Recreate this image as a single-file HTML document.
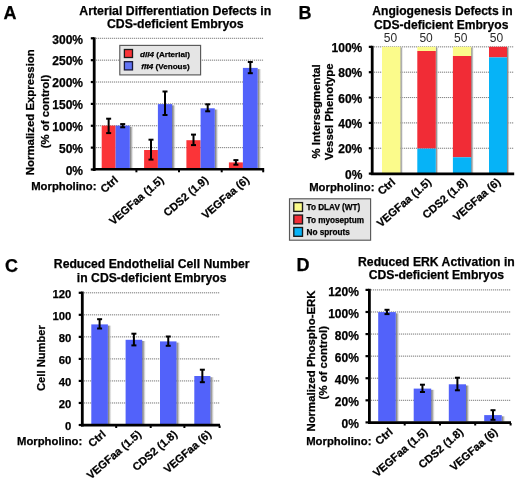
<!DOCTYPE html>
<html><head><meta charset="utf-8"><style>
html,body{margin:0;padding:0;background:#fff;}
svg{display:block;will-change:transform;}
text{font-family:"Liberation Sans", sans-serif;stroke:#000;stroke-width:0.25px;}
</style></head><body>
<svg width="520" height="483" viewBox="0 0 520 483">
<defs><linearGradient id="sh" x1="0" x2="1" y1="0" y2="0"><stop offset="0" stop-color="#6e6e6e" stop-opacity="1"/><stop offset="0.45" stop-color="#a4a4a4" stop-opacity="0.85"/><stop offset="1" stop-color="#e8e8e8" stop-opacity="0.2"/></linearGradient></defs>
<rect width="520" height="483" fill="#fff"/>
<text x="3.6" y="18.9" font-size="18" font-weight="bold" font-style="normal" text-anchor="start" fill="#000">A</text>
<text x="175.3" y="14.6" font-size="12.3" font-weight="bold" font-style="normal" text-anchor="middle" fill="#000">Arterial Differentiation Defects in</text>
<text x="175.3" y="28.4" font-size="12.3" font-weight="bold" font-style="normal" text-anchor="middle" fill="#000">CDS-deficient Embryos</text>
<line x1="90.8" y1="169.5" x2="94" y2="169.5" stroke="#000" stroke-width="2.2"/>
<text x="83" y="174.8" font-size="12" font-weight="bold" font-style="normal" text-anchor="end" fill="#000">0%</text>
<line x1="96" y1="147.63" x2="263.3" y2="147.63" stroke="#e4e4e4" stroke-width="1"/>
<line x1="96" y1="147.63" x2="263.3" y2="147.63" stroke="#858585" stroke-width="1" stroke-dasharray="1 1"/>
<line x1="90.8" y1="147.63" x2="94" y2="147.63" stroke="#000" stroke-width="2.2"/>
<text x="83" y="152.93" font-size="12" font-weight="bold" font-style="normal" text-anchor="end" fill="#000">50%</text>
<line x1="96" y1="125.77" x2="263.3" y2="125.77" stroke="#e4e4e4" stroke-width="1"/>
<line x1="96" y1="125.77" x2="263.3" y2="125.77" stroke="#858585" stroke-width="1" stroke-dasharray="1 1"/>
<line x1="90.8" y1="125.77" x2="94" y2="125.77" stroke="#000" stroke-width="2.2"/>
<text x="83" y="131.07" font-size="12" font-weight="bold" font-style="normal" text-anchor="end" fill="#000">100%</text>
<line x1="96" y1="103.9" x2="263.3" y2="103.9" stroke="#e4e4e4" stroke-width="1"/>
<line x1="96" y1="103.9" x2="263.3" y2="103.9" stroke="#858585" stroke-width="1" stroke-dasharray="1 1"/>
<line x1="90.8" y1="103.9" x2="94" y2="103.9" stroke="#000" stroke-width="2.2"/>
<text x="83" y="109.2" font-size="12" font-weight="bold" font-style="normal" text-anchor="end" fill="#000">150%</text>
<line x1="96" y1="82.03" x2="263.3" y2="82.03" stroke="#e4e4e4" stroke-width="1"/>
<line x1="96" y1="82.03" x2="263.3" y2="82.03" stroke="#858585" stroke-width="1" stroke-dasharray="1 1"/>
<line x1="90.8" y1="82.03" x2="94" y2="82.03" stroke="#000" stroke-width="2.2"/>
<text x="83" y="87.33" font-size="12" font-weight="bold" font-style="normal" text-anchor="end" fill="#000">200%</text>
<line x1="96" y1="60.17" x2="263.3" y2="60.17" stroke="#e4e4e4" stroke-width="1"/>
<line x1="96" y1="60.17" x2="263.3" y2="60.17" stroke="#858585" stroke-width="1" stroke-dasharray="1 1"/>
<line x1="90.8" y1="60.17" x2="94" y2="60.17" stroke="#000" stroke-width="2.2"/>
<text x="83" y="65.47" font-size="12" font-weight="bold" font-style="normal" text-anchor="end" fill="#000">250%</text>
<line x1="96" y1="38.3" x2="263.3" y2="38.3" stroke="#e4e4e4" stroke-width="1"/>
<line x1="96" y1="38.3" x2="263.3" y2="38.3" stroke="#858585" stroke-width="1" stroke-dasharray="1 1"/>
<line x1="90.8" y1="38.3" x2="94" y2="38.3" stroke="#000" stroke-width="2.2"/>
<text x="83" y="43.6" font-size="12" font-weight="bold" font-style="normal" text-anchor="end" fill="#000">300%</text>
<rect x="101.7" y="125.6" width="13.899999999999991" height="43.400000000000006" fill="#fb3438"/>
<rect x="129.8" y="126.8" width="3.5999999999999943" height="42.2" fill="url(#sh)"/>
<rect x="115.6" y="125.6" width="14.200000000000017" height="43.400000000000006" fill="#5262fa"/>
<rect x="144.1" y="150.0" width="13.800000000000011" height="19.0" fill="#fb3438"/>
<rect x="172.1" y="105.3" width="3.5999999999999943" height="63.7" fill="url(#sh)"/>
<rect x="157.9" y="104.1" width="14.199999999999989" height="64.9" fill="#5262fa"/>
<rect x="186.4" y="140.2" width="14.199999999999989" height="28.80000000000001" fill="#fb3438"/>
<rect x="214.8" y="109.5" width="3.5999999999999943" height="59.5" fill="url(#sh)"/>
<rect x="200.6" y="108.3" width="14.200000000000017" height="60.7" fill="#5262fa"/>
<rect x="228.9" y="162.4" width="14.0" height="6.599999999999994" fill="#fb3438"/>
<rect x="257.7" y="69.1" width="3.6000000000000227" height="99.9" fill="url(#sh)"/>
<rect x="242.9" y="67.9" width="14.799999999999983" height="101.1" fill="#5262fa"/>
<line x1="108.65" y1="118.7" x2="108.65" y2="133.1" stroke="#000" stroke-width="2"/>
<line x1="106.15" y1="118.7" x2="111.15" y2="118.7" stroke="#000" stroke-width="2"/>
<line x1="106.15" y1="133.1" x2="111.15" y2="133.1" stroke="#000" stroke-width="2"/>
<line x1="122.7" y1="124.1" x2="122.7" y2="127.3" stroke="#000" stroke-width="2"/>
<line x1="120.2" y1="124.1" x2="125.2" y2="124.1" stroke="#000" stroke-width="2"/>
<line x1="120.2" y1="127.3" x2="125.2" y2="127.3" stroke="#000" stroke-width="2"/>
<line x1="151" y1="139.7" x2="151" y2="159.6" stroke="#000" stroke-width="2"/>
<line x1="148.5" y1="139.7" x2="153.5" y2="139.7" stroke="#000" stroke-width="2"/>
<line x1="148.5" y1="159.6" x2="153.5" y2="159.6" stroke="#000" stroke-width="2"/>
<line x1="165" y1="91.5" x2="165" y2="115" stroke="#000" stroke-width="2"/>
<line x1="162.5" y1="91.5" x2="167.5" y2="91.5" stroke="#000" stroke-width="2"/>
<line x1="162.5" y1="115" x2="167.5" y2="115" stroke="#000" stroke-width="2"/>
<line x1="193.5" y1="134.6" x2="193.5" y2="145.1" stroke="#000" stroke-width="2"/>
<line x1="191" y1="134.6" x2="196" y2="134.6" stroke="#000" stroke-width="2"/>
<line x1="191" y1="145.1" x2="196" y2="145.1" stroke="#000" stroke-width="2"/>
<line x1="207.7" y1="104.3" x2="207.7" y2="111.3" stroke="#000" stroke-width="2"/>
<line x1="205.2" y1="104.3" x2="210.2" y2="104.3" stroke="#000" stroke-width="2"/>
<line x1="205.2" y1="111.3" x2="210.2" y2="111.3" stroke="#000" stroke-width="2"/>
<line x1="235.9" y1="160.1" x2="235.9" y2="164.7" stroke="#000" stroke-width="2"/>
<line x1="233.4" y1="160.1" x2="238.4" y2="160.1" stroke="#000" stroke-width="2"/>
<line x1="233.4" y1="164.7" x2="238.4" y2="164.7" stroke="#000" stroke-width="2"/>
<line x1="250.3" y1="62" x2="250.3" y2="73.2" stroke="#000" stroke-width="2"/>
<line x1="247.8" y1="62" x2="252.8" y2="62" stroke="#000" stroke-width="2"/>
<line x1="247.8" y1="73.2" x2="252.8" y2="73.2" stroke="#000" stroke-width="2"/>
<line x1="94.2" y1="37.3" x2="94.2" y2="171" stroke="#000" stroke-width="2.8"/>
<line x1="92.8" y1="169.2" x2="264.2" y2="169.2" stroke="#000" stroke-width="2.6"/>
<line x1="136.4" y1="170" x2="136.4" y2="172.3" stroke="#000" stroke-width="2"/>
<line x1="179" y1="170" x2="179" y2="172.3" stroke="#000" stroke-width="2"/>
<line x1="221.7" y1="170" x2="221.7" y2="172.3" stroke="#000" stroke-width="2"/>
<line x1="263.2" y1="170" x2="263.2" y2="172.3" stroke="#000" stroke-width="2"/>
<rect x="119.8" y="45.4" width="80.8" height="29.500000000000007" fill="#e5e5e5" stroke="#585858" stroke-width="1.15"/>
<rect x="124.4" y="49.5" width="8.099999999999994" height="8.0" fill="#fb3438" stroke="#1a1a1a" stroke-width="1.3"/>
<rect x="124.4" y="61.7" width="8.099999999999994" height="8.200000000000003" fill="#6274f4" stroke="#1a1a3a" stroke-width="1.3"/>
<text x="140" y="56.6" font-size="8.1" font-weight="bold"><tspan font-style="italic">dll4</tspan> (Arterial)</text>
<text x="141.2" y="68.9" font-size="8.1" font-weight="bold"><tspan font-style="italic">flt4</tspan> (Venous)</text>
<text x="34.5" y="112.2" font-size="11.4" font-weight="bold" font-style="normal" text-anchor="middle" fill="#000" transform="rotate(-90 34.5 112.2)">Normalized Expression</text>
<text x="49.4" y="111.5" font-size="11.4" font-weight="bold" font-style="normal" text-anchor="middle" fill="#000" transform="rotate(-90 49.4 111.5)">(% of control)</text>
<text x="31.2" y="190" font-size="11.3" font-weight="bold" font-style="normal" text-anchor="start" fill="#000">Morpholino:</text>
<text x="118.8" y="181" font-size="11.0" font-weight="bold" font-style="normal" text-anchor="end" fill="#000" transform="rotate(-41 118.8 181)">Ctrl</text>
<text x="164.5" y="181" font-size="11.0" font-weight="bold" font-style="normal" text-anchor="end" fill="#000" transform="rotate(-41 164.5 181)">VEGFaa (1.5)</text>
<text x="209" y="181" font-size="11.0" font-weight="bold" font-style="normal" text-anchor="end" fill="#000" transform="rotate(-41 209 181)">CDS2 (1.9)</text>
<text x="250" y="181" font-size="11.0" font-weight="bold" font-style="normal" text-anchor="end" fill="#000" transform="rotate(-41 250 181)">VEGFaa (6)</text>
<text x="298.6" y="19.4" font-size="18" font-weight="bold" font-style="normal" text-anchor="start" fill="#000">B</text>
<text x="442.5" y="15.4" font-size="12.1" font-weight="bold" font-style="normal" text-anchor="middle" fill="#000">Angiogenesis Defects in</text>
<text x="441.2" y="28.8" font-size="12.1" font-weight="bold" font-style="normal" text-anchor="middle" fill="#000">CDS-deficient Embryos</text>
<text x="390.4" y="41.6" font-size="12" font-weight="normal" font-style="normal" text-anchor="middle" fill="#2a2a2a" style="stroke:none">50</text>
<text x="426.1" y="41.6" font-size="12" font-weight="normal" font-style="normal" text-anchor="middle" fill="#2a2a2a" style="stroke:none">50</text>
<text x="460.7" y="41.6" font-size="12" font-weight="normal" font-style="normal" text-anchor="middle" fill="#2a2a2a" style="stroke:none">50</text>
<text x="496.5" y="41.6" font-size="12" font-weight="normal" font-style="normal" text-anchor="middle" fill="#2a2a2a" style="stroke:none">50</text>
<line x1="368.8" y1="173.6" x2="372" y2="173.6" stroke="#000" stroke-width="2.2"/>
<text x="362.3" y="178.7" font-size="12" font-weight="bold" font-style="normal" text-anchor="end" fill="#000">0%</text>
<line x1="374" y1="148.25" x2="514" y2="148.25" stroke="#e4e4e4" stroke-width="1"/>
<line x1="374" y1="148.25" x2="514" y2="148.25" stroke="#858585" stroke-width="1" stroke-dasharray="1 1"/>
<line x1="368.8" y1="148.25" x2="372" y2="148.25" stroke="#000" stroke-width="2.2"/>
<text x="362.3" y="153.35" font-size="12" font-weight="bold" font-style="normal" text-anchor="end" fill="#000">20%</text>
<line x1="374" y1="122.9" x2="514" y2="122.9" stroke="#e4e4e4" stroke-width="1"/>
<line x1="374" y1="122.9" x2="514" y2="122.9" stroke="#858585" stroke-width="1" stroke-dasharray="1 1"/>
<line x1="368.8" y1="122.9" x2="372" y2="122.9" stroke="#000" stroke-width="2.2"/>
<text x="362.3" y="128.0" font-size="12" font-weight="bold" font-style="normal" text-anchor="end" fill="#000">40%</text>
<line x1="374" y1="97.55" x2="514" y2="97.55" stroke="#e4e4e4" stroke-width="1"/>
<line x1="374" y1="97.55" x2="514" y2="97.55" stroke="#858585" stroke-width="1" stroke-dasharray="1 1"/>
<line x1="368.8" y1="97.55" x2="372" y2="97.55" stroke="#000" stroke-width="2.2"/>
<text x="362.3" y="102.65" font-size="12" font-weight="bold" font-style="normal" text-anchor="end" fill="#000">60%</text>
<line x1="374" y1="72.2" x2="514" y2="72.2" stroke="#e4e4e4" stroke-width="1"/>
<line x1="374" y1="72.2" x2="514" y2="72.2" stroke="#858585" stroke-width="1" stroke-dasharray="1 1"/>
<line x1="368.8" y1="72.2" x2="372" y2="72.2" stroke="#000" stroke-width="2.2"/>
<text x="362.3" y="77.3" font-size="12" font-weight="bold" font-style="normal" text-anchor="end" fill="#000">80%</text>
<line x1="374" y1="46.85" x2="514" y2="46.85" stroke="#e4e4e4" stroke-width="1"/>
<line x1="374" y1="46.85" x2="514" y2="46.85" stroke="#858585" stroke-width="1" stroke-dasharray="1 1"/>
<line x1="368.8" y1="46.85" x2="372" y2="46.85" stroke="#000" stroke-width="2.2"/>
<text x="362.3" y="51.95" font-size="12" font-weight="bold" font-style="normal" text-anchor="end" fill="#000">100%</text>
<rect x="400.4" y="47.4" width="2.6000000000000227" height="125.79999999999998" fill="url(#sh)"/>
<rect x="382" y="46.8" width="18.399999999999977" height="126.39999999999999" fill="#fbfb8b"/>
<rect x="435.8" y="47.4" width="2.599999999999966" height="125.79999999999998" fill="url(#sh)"/>
<rect x="417.3" y="46.8" width="18.5" height="4.200000000000003" fill="#fbfb8b"/>
<rect x="417.3" y="51" width="18.5" height="97.6" fill="#f12c36"/>
<rect x="417.3" y="148.6" width="18.5" height="24.599999999999994" fill="#06b3f7"/>
<rect x="471.2" y="47.4" width="2.6000000000000227" height="125.79999999999998" fill="url(#sh)"/>
<rect x="452.9" y="46.8" width="18.30000000000001" height="9.200000000000003" fill="#fbfb8b"/>
<rect x="452.9" y="56" width="18.30000000000001" height="101.30000000000001" fill="#f12c36"/>
<rect x="452.9" y="157.3" width="18.30000000000001" height="15.899999999999977" fill="#06b3f7"/>
<rect x="507" y="47.4" width="2.6000000000000227" height="125.79999999999998" fill="url(#sh)"/>
<rect x="489" y="46.8" width="18" height="10.600000000000001" fill="#f12c36"/>
<rect x="489" y="57.4" width="18" height="115.79999999999998" fill="#06b3f7"/>
<line x1="372.2" y1="45.8" x2="372.2" y2="175" stroke="#000" stroke-width="2.8"/>
<line x1="370.8" y1="173.8" x2="514.2" y2="173.8" stroke="#000" stroke-width="2.8"/>
<text x="320.4" y="111.4" font-size="11.4" font-weight="bold" font-style="normal" text-anchor="middle" fill="#000" transform="rotate(-90 320.4 111.4)">% Intersegmental</text>
<text x="332.8" y="111.8" font-size="11.4" font-weight="bold" font-style="normal" text-anchor="middle" fill="#000" transform="rotate(-90 332.8 111.8)">Vessel Phenotype</text>
<text x="309.2" y="191.3" font-size="11.3" font-weight="bold" font-style="normal" text-anchor="start" fill="#000">Morpholino:</text>
<text x="396" y="183.2" font-size="11.0" font-weight="bold" font-style="normal" text-anchor="end" fill="#000" transform="rotate(-41 396 183.2)">Ctrl</text>
<text x="432" y="183.2" font-size="11.0" font-weight="bold" font-style="normal" text-anchor="end" fill="#000" transform="rotate(-41 432 183.2)">VEGFaa (1.5)</text>
<text x="468" y="183.2" font-size="11.0" font-weight="bold" font-style="normal" text-anchor="end" fill="#000" transform="rotate(-41 468 183.2)">CDS2 (1.8)</text>
<text x="501.2" y="183.2" font-size="11.0" font-weight="bold" font-style="normal" text-anchor="end" fill="#000" transform="rotate(-41 501.2 183.2)">VEGFaa (6)</text>
<rect x="289.5" y="198.8" width="81.10000000000002" height="41.39999999999998" fill="#e5e5e5" stroke="#585858" stroke-width="1.15"/>
<rect x="293.8" y="202.6" width="8.699999999999989" height="8.800000000000011" fill="#fbfb8b" stroke="#1a1a1a" stroke-width="1.35"/>
<text x="306.5" y="210.3" font-size="8.2" font-weight="bold" font-style="normal" text-anchor="start" fill="#000">To DLAV (WT)</text>
<rect x="293.8" y="215.05" width="8.699999999999989" height="8.799999999999983" fill="#f12c36" stroke="#1a1a1a" stroke-width="1.35"/>
<text x="306.5" y="222.75" font-size="8.2" font-weight="bold" font-style="normal" text-anchor="start" fill="#000">To myoseptum</text>
<rect x="293.8" y="227.5" width="8.699999999999989" height="8.800000000000011" fill="#06b3f7" stroke="#1a1a1a" stroke-width="1.35"/>
<text x="306.5" y="235.2" font-size="8.2" font-weight="bold" font-style="normal" text-anchor="start" fill="#000">No sprouts</text>
<text x="5.0" y="272.4" font-size="18" font-weight="bold" font-style="normal" text-anchor="start" fill="#000">C</text>
<text x="151.7" y="267.8" font-size="12.2" font-weight="bold" font-style="normal" text-anchor="middle" fill="#000">Reduced Endothelial Cell Number</text>
<text x="151.7" y="282.0" font-size="12.2" font-weight="bold" font-style="normal" text-anchor="middle" fill="#000">in CDS-deficient Embryos</text>
<line x1="78.7" y1="425" x2="82" y2="425" stroke="#000" stroke-width="2.2"/>
<text x="71.3" y="429.8" font-size="11.3" font-weight="bold" font-style="normal" text-anchor="end" fill="#000">0</text>
<line x1="84" y1="402.97" x2="220" y2="402.97" stroke="#e4e4e4" stroke-width="1"/>
<line x1="84" y1="402.97" x2="220" y2="402.97" stroke="#858585" stroke-width="1" stroke-dasharray="1 1"/>
<line x1="78.7" y1="402.97" x2="82" y2="402.97" stroke="#000" stroke-width="2.2"/>
<text x="71.3" y="407.77" font-size="11.3" font-weight="bold" font-style="normal" text-anchor="end" fill="#000">20</text>
<line x1="84" y1="380.93" x2="220" y2="380.93" stroke="#e4e4e4" stroke-width="1"/>
<line x1="84" y1="380.93" x2="220" y2="380.93" stroke="#858585" stroke-width="1" stroke-dasharray="1 1"/>
<line x1="78.7" y1="380.93" x2="82" y2="380.93" stroke="#000" stroke-width="2.2"/>
<text x="71.3" y="385.73" font-size="11.3" font-weight="bold" font-style="normal" text-anchor="end" fill="#000">40</text>
<line x1="84" y1="358.9" x2="220" y2="358.9" stroke="#e4e4e4" stroke-width="1"/>
<line x1="84" y1="358.9" x2="220" y2="358.9" stroke="#858585" stroke-width="1" stroke-dasharray="1 1"/>
<line x1="78.7" y1="358.9" x2="82" y2="358.9" stroke="#000" stroke-width="2.2"/>
<text x="71.3" y="363.7" font-size="11.3" font-weight="bold" font-style="normal" text-anchor="end" fill="#000">60</text>
<line x1="84" y1="336.87" x2="220" y2="336.87" stroke="#e4e4e4" stroke-width="1"/>
<line x1="84" y1="336.87" x2="220" y2="336.87" stroke="#858585" stroke-width="1" stroke-dasharray="1 1"/>
<line x1="78.7" y1="336.87" x2="82" y2="336.87" stroke="#000" stroke-width="2.2"/>
<text x="71.3" y="341.67" font-size="11.3" font-weight="bold" font-style="normal" text-anchor="end" fill="#000">80</text>
<line x1="84" y1="314.83" x2="220" y2="314.83" stroke="#e4e4e4" stroke-width="1"/>
<line x1="84" y1="314.83" x2="220" y2="314.83" stroke="#858585" stroke-width="1" stroke-dasharray="1 1"/>
<line x1="78.7" y1="314.83" x2="82" y2="314.83" stroke="#000" stroke-width="2.2"/>
<text x="71.3" y="319.63" font-size="11.3" font-weight="bold" font-style="normal" text-anchor="end" fill="#000">100</text>
<line x1="84" y1="292.8" x2="220" y2="292.8" stroke="#e4e4e4" stroke-width="1"/>
<line x1="84" y1="292.8" x2="220" y2="292.8" stroke="#858585" stroke-width="1" stroke-dasharray="1 1"/>
<line x1="78.7" y1="292.8" x2="82" y2="292.8" stroke="#000" stroke-width="2.2"/>
<text x="71.3" y="297.6" font-size="11.3" font-weight="bold" font-style="normal" text-anchor="end" fill="#000">120</text>
<rect x="107.9" y="325.6" width="3.5999999999999943" height="98.39999999999998" fill="url(#sh)"/>
<rect x="91.3" y="324.4" width="16.60000000000001" height="99.60000000000002" fill="#5262fa"/>
<rect x="142.2" y="341.0" width="3.6000000000000227" height="83.0" fill="url(#sh)"/>
<rect x="125.6" y="339.8" width="16.599999999999994" height="84.19999999999999" fill="#5262fa"/>
<rect x="176.5" y="342.6" width="3.5999999999999943" height="81.39999999999998" fill="url(#sh)"/>
<rect x="160" y="341.4" width="16.5" height="82.60000000000002" fill="#5262fa"/>
<rect x="210.4" y="377.2" width="3.5999999999999943" height="46.80000000000001" fill="url(#sh)"/>
<rect x="194.3" y="376" width="16.099999999999994" height="48" fill="#5262fa"/>
<line x1="99.6" y1="319.2" x2="99.6" y2="328.5" stroke="#000" stroke-width="2"/>
<line x1="97.1" y1="319.2" x2="102.1" y2="319.2" stroke="#000" stroke-width="2"/>
<line x1="97.1" y1="328.5" x2="102.1" y2="328.5" stroke="#000" stroke-width="2"/>
<line x1="133.9" y1="333.7" x2="133.9" y2="345.4" stroke="#000" stroke-width="2"/>
<line x1="131.4" y1="333.7" x2="136.4" y2="333.7" stroke="#000" stroke-width="2"/>
<line x1="131.4" y1="345.4" x2="136.4" y2="345.4" stroke="#000" stroke-width="2"/>
<line x1="168.25" y1="336.5" x2="168.25" y2="345.8" stroke="#000" stroke-width="2"/>
<line x1="165.75" y1="336.5" x2="170.75" y2="336.5" stroke="#000" stroke-width="2"/>
<line x1="165.75" y1="345.8" x2="170.75" y2="345.8" stroke="#000" stroke-width="2"/>
<line x1="202.35" y1="369.7" x2="202.35" y2="382.2" stroke="#000" stroke-width="2"/>
<line x1="199.85" y1="369.7" x2="204.85" y2="369.7" stroke="#000" stroke-width="2"/>
<line x1="199.85" y1="382.2" x2="204.85" y2="382.2" stroke="#000" stroke-width="2"/>
<line x1="82.3" y1="291.5" x2="82.3" y2="426.5" stroke="#000" stroke-width="2.8"/>
<line x1="81" y1="425.2" x2="220" y2="425.2" stroke="#000" stroke-width="2.8"/>
<line x1="116.2" y1="425.5" x2="116.2" y2="428" stroke="#000" stroke-width="2"/>
<line x1="150.7" y1="425.5" x2="150.7" y2="428" stroke="#000" stroke-width="2"/>
<line x1="184.4" y1="425.5" x2="184.4" y2="428" stroke="#000" stroke-width="2"/>
<line x1="219.6" y1="425.5" x2="219.6" y2="428" stroke="#000" stroke-width="2"/>
<text x="44.7" y="358.0" font-size="11.2" font-weight="bold" font-style="normal" text-anchor="middle" fill="#000" transform="rotate(-90 44.7 358.0)">Cell Number</text>
<text x="17.0" y="444.7" font-size="11.3" font-weight="bold" font-style="normal" text-anchor="start" fill="#000">Morpholino:</text>
<text x="106.5" y="435.3" font-size="11.0" font-weight="bold" font-style="normal" text-anchor="end" fill="#000" transform="rotate(-41 106.5 435.3)">Ctrl</text>
<text x="142" y="435.3" font-size="11.0" font-weight="bold" font-style="normal" text-anchor="end" fill="#000" transform="rotate(-41 142 435.3)">VEGFaa (1.5)</text>
<text x="178" y="435.3" font-size="11.0" font-weight="bold" font-style="normal" text-anchor="end" fill="#000" transform="rotate(-41 178 435.3)">CDS2 (1.8)</text>
<text x="212" y="435.3" font-size="11.0" font-weight="bold" font-style="normal" text-anchor="end" fill="#000" transform="rotate(-41 212 435.3)">VEGFaa (6)</text>
<text x="296.6" y="270.6" font-size="18" font-weight="bold" font-style="normal" text-anchor="start" fill="#000">D</text>
<text x="436.4" y="265.6" font-size="12.2" font-weight="bold" font-style="normal" text-anchor="middle" fill="#000">Reduced ERK Activation in</text>
<text x="436.4" y="279.4" font-size="12.2" font-weight="bold" font-style="normal" text-anchor="middle" fill="#000">CDS-deficient Embryos</text>
<line x1="365.5" y1="422.4" x2="369" y2="422.4" stroke="#000" stroke-width="2.2"/>
<text x="358.9" y="428.3" font-size="12" font-weight="bold" font-style="normal" text-anchor="end" fill="#000">0%</text>
<line x1="371" y1="400.32" x2="511" y2="400.32" stroke="#e4e4e4" stroke-width="1"/>
<line x1="371" y1="400.32" x2="511" y2="400.32" stroke="#858585" stroke-width="1" stroke-dasharray="1 1"/>
<line x1="365.5" y1="400.32" x2="369" y2="400.32" stroke="#000" stroke-width="2.2"/>
<text x="358.9" y="406.22" font-size="12" font-weight="bold" font-style="normal" text-anchor="end" fill="#000">20%</text>
<line x1="371" y1="378.23" x2="511" y2="378.23" stroke="#e4e4e4" stroke-width="1"/>
<line x1="371" y1="378.23" x2="511" y2="378.23" stroke="#858585" stroke-width="1" stroke-dasharray="1 1"/>
<line x1="365.5" y1="378.23" x2="369" y2="378.23" stroke="#000" stroke-width="2.2"/>
<text x="358.9" y="384.13" font-size="12" font-weight="bold" font-style="normal" text-anchor="end" fill="#000">40%</text>
<line x1="371" y1="356.15" x2="511" y2="356.15" stroke="#e4e4e4" stroke-width="1"/>
<line x1="371" y1="356.15" x2="511" y2="356.15" stroke="#858585" stroke-width="1" stroke-dasharray="1 1"/>
<line x1="365.5" y1="356.15" x2="369" y2="356.15" stroke="#000" stroke-width="2.2"/>
<text x="358.9" y="362.05" font-size="12" font-weight="bold" font-style="normal" text-anchor="end" fill="#000">60%</text>
<line x1="371" y1="334.07" x2="511" y2="334.07" stroke="#e4e4e4" stroke-width="1"/>
<line x1="371" y1="334.07" x2="511" y2="334.07" stroke="#858585" stroke-width="1" stroke-dasharray="1 1"/>
<line x1="365.5" y1="334.07" x2="369" y2="334.07" stroke="#000" stroke-width="2.2"/>
<text x="358.9" y="339.97" font-size="12" font-weight="bold" font-style="normal" text-anchor="end" fill="#000">80%</text>
<line x1="371" y1="311.98" x2="511" y2="311.98" stroke="#e4e4e4" stroke-width="1"/>
<line x1="371" y1="311.98" x2="511" y2="311.98" stroke="#858585" stroke-width="1" stroke-dasharray="1 1"/>
<line x1="365.5" y1="311.98" x2="369" y2="311.98" stroke="#000" stroke-width="2.2"/>
<text x="358.9" y="317.88" font-size="12" font-weight="bold" font-style="normal" text-anchor="end" fill="#000">100%</text>
<line x1="371" y1="289.9" x2="511" y2="289.9" stroke="#e4e4e4" stroke-width="1"/>
<line x1="371" y1="289.9" x2="511" y2="289.9" stroke="#858585" stroke-width="1" stroke-dasharray="1 1"/>
<line x1="365.5" y1="289.9" x2="369" y2="289.9" stroke="#000" stroke-width="2.2"/>
<text x="358.9" y="295.8" font-size="12" font-weight="bold" font-style="normal" text-anchor="end" fill="#000">120%</text>
<rect x="395.8" y="313.3" width="3.599999999999966" height="108.19999999999999" fill="url(#sh)"/>
<rect x="378.2" y="312.1" width="17.600000000000023" height="109.39999999999998" fill="#5262fa"/>
<rect x="431.2" y="389.8" width="3.6000000000000227" height="31.69999999999999" fill="url(#sh)"/>
<rect x="413.7" y="388.6" width="17.5" height="32.89999999999998" fill="#5262fa"/>
<rect x="466" y="385.5" width="3.6000000000000227" height="36.0" fill="url(#sh)"/>
<rect x="448.8" y="384.3" width="17.19999999999999" height="37.19999999999999" fill="#5262fa"/>
<rect x="501.8" y="416.3" width="3.599999999999966" height="5.199999999999989" fill="url(#sh)"/>
<rect x="484.2" y="415.1" width="17.600000000000023" height="6.399999999999977" fill="#5262fa"/>
<line x1="387" y1="309.8" x2="387" y2="314.1" stroke="#000" stroke-width="2"/>
<line x1="384.5" y1="309.8" x2="389.5" y2="309.8" stroke="#000" stroke-width="2"/>
<line x1="384.5" y1="314.1" x2="389.5" y2="314.1" stroke="#000" stroke-width="2"/>
<line x1="422.45" y1="384.7" x2="422.45" y2="392" stroke="#000" stroke-width="2"/>
<line x1="419.95" y1="384.7" x2="424.95" y2="384.7" stroke="#000" stroke-width="2"/>
<line x1="419.95" y1="392" x2="424.95" y2="392" stroke="#000" stroke-width="2"/>
<line x1="457.4" y1="377.7" x2="457.4" y2="390.3" stroke="#000" stroke-width="2"/>
<line x1="454.9" y1="377.7" x2="459.9" y2="377.7" stroke="#000" stroke-width="2"/>
<line x1="454.9" y1="390.3" x2="459.9" y2="390.3" stroke="#000" stroke-width="2"/>
<line x1="493" y1="410.2" x2="493" y2="419.8" stroke="#000" stroke-width="2"/>
<line x1="490.5" y1="410.2" x2="495.5" y2="410.2" stroke="#000" stroke-width="2"/>
<line x1="490.5" y1="419.8" x2="495.5" y2="419.8" stroke="#000" stroke-width="2"/>
<line x1="369.4" y1="288.8" x2="369.4" y2="424" stroke="#000" stroke-width="2.8"/>
<line x1="368" y1="422.6" x2="511" y2="422.6" stroke="#000" stroke-width="2.8"/>
<text x="314.5" y="361" font-size="11.4" font-weight="bold" font-style="normal" text-anchor="middle" fill="#000" transform="rotate(-90 314.5 361)">Normalized Phospho-ERK</text>
<text x="327.1" y="362.7" font-size="11.4" font-weight="bold" font-style="normal" text-anchor="middle" fill="#000" transform="rotate(-90 327.1 362.7)">(% of control)</text>
<text x="306.2" y="445" font-size="11.3" font-weight="bold" font-style="normal" text-anchor="start" fill="#000">Morpholino:</text>
<text x="393.5" y="433" font-size="11.0" font-weight="bold" font-style="normal" text-anchor="end" fill="#000" transform="rotate(-41 393.5 433)">Ctrl</text>
<text x="428.3" y="433" font-size="11.0" font-weight="bold" font-style="normal" text-anchor="end" fill="#000" transform="rotate(-41 428.3 433)">VEGFaa (1.5)</text>
<text x="464" y="433" font-size="11.0" font-weight="bold" font-style="normal" text-anchor="end" fill="#000" transform="rotate(-41 464 433)">CDS2 (1.8)</text>
<text x="498.3" y="433" font-size="11.0" font-weight="bold" font-style="normal" text-anchor="end" fill="#000" transform="rotate(-41 498.3 433)">VEGFaa (6)</text>
<line x1="404.7" y1="423" x2="404.7" y2="425.5" stroke="#000" stroke-width="2"/>
<line x1="440" y1="423" x2="440" y2="425.5" stroke="#000" stroke-width="2"/>
<line x1="475.2" y1="423" x2="475.2" y2="425.5" stroke="#000" stroke-width="2"/>
<line x1="510.6" y1="423" x2="510.6" y2="425.5" stroke="#000" stroke-width="2"/>
</svg>
</body></html>
